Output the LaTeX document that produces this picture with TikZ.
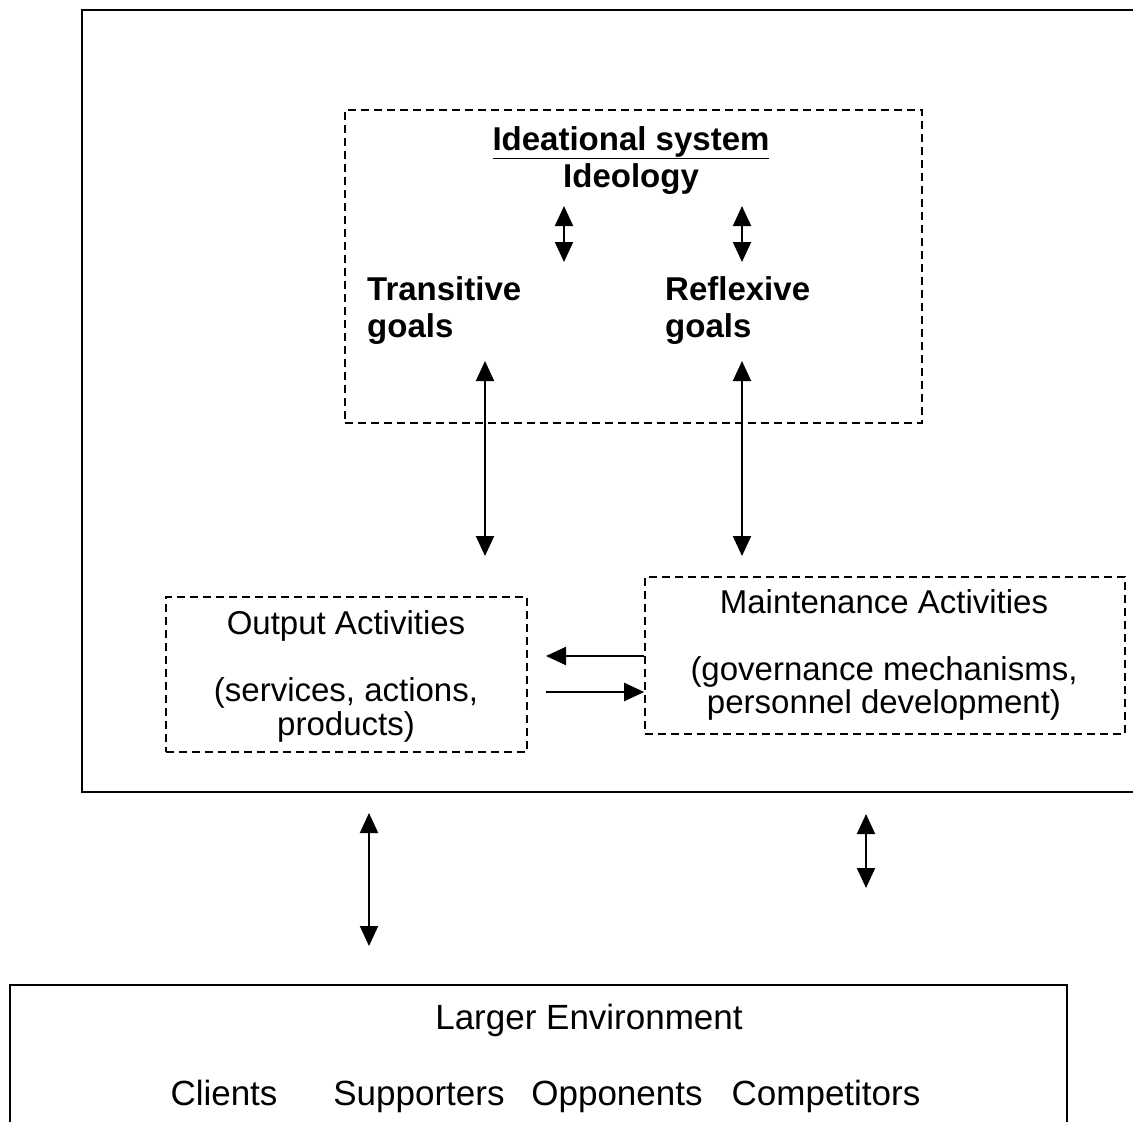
\documentclass[tikz,border=0pt]{standalone}
\usepackage{fontspec}
\setmainfont{Liberation Sans}
\usetikzlibrary{arrows.meta}
\begin{document}
\begin{tikzpicture}[x=1pt,y=-1pt,
  txt/.style={inner sep=0pt,anchor=base,font=\fontsize{33}{40}\selectfont},
  btxt/.style={txt,font=\fontsize{33}{40}\selectfont\bfseries},
  etxt/.style={txt,font=\fontsize{35}{42}\selectfont},
  dbox/.style={draw,dashed,dash pattern=on 8pt off 5pt,line width=1.6pt,inner sep=0pt},
  solidline/.style={line width=2.6pt},
  dbl/.style={line width=2pt,{Triangle[length=20pt,width=18pt]}-{Triangle[length=20pt,width=18pt]}},
  sgl/.style={line width=2pt,-{Triangle[length=20pt,width=18pt]}}]
\useasboundingbox (0,0) rectangle (1133,1122);
\fill[white] (0,0) rectangle (1133,1122);

% outer organisation box (open at right)
\coordinate (otr) at (1133,10);
\coordinate (otl) at (82,10);
\coordinate (obl) at (82,792);
\coordinate (obr) at (1133,792);
\draw[solidline] (otr) -- (otl) -- (obl) -- (obr);

% larger environment box (open at bottom)
\coordinate (ebl) at (10,1122);
\coordinate (etl) at (10,985);
\coordinate (etr) at (1067,985);
\coordinate (ebr) at (1067,1122);
\draw[line width=2.2pt] (ebl) -- (etl) -- (etr) -- (ebr);

% dashed boxes
\node[dbox,minimum width=577pt,minimum height=313pt] (ideal) at (633.5,266.5) {};
\node[dbox,minimum width=361pt,minimum height=155pt] (out) at (346.5,674.5) {};
\node[dbox,minimum width=480pt,minimum height=157pt] (maint) at (885,655.5) {};

% texts
\node[btxt] (ideational) at (631,150) {\underline{Ideational system}};
\node[btxt] (ideology) at (631,187) {Ideology};
\node[btxt,anchor=base west] (trans) at (367,300) {Transitive};
\node[btxt,anchor=base west] (transg) at (367,337) {goals};
\node[btxt,anchor=base west] (refl) at (665,300) {Reflexive};
\node[btxt,anchor=base west] (reflg) at (665,337) {goals};

\node[txt] (outt) at (346,634) {Output Activities};
\node[txt] (outs) at (346,701) {(services, actions,};
\node[txt] (outp) at (346,735) {products)};

\node[txt] (maintt) at (884,613) {Maintenance Activities};
\node[txt] (maintg) at (884,680) {(governance mechanisms,};
\node[txt] (maintp) at (884,713) {personnel development)};

\node[etxt] (env) at (589,1029) {Larger Environment};
\node[etxt] (clients) at (224,1105) {Clients};
\node[etxt] (supp) at (419,1105) {Supporters};
\node[etxt] (opp) at (617,1105) {Opponents};
\node[etxt] (comp) at (826,1105) {Competitors};

% arrow end points
\coordinate (a1t) at (564,206);
\coordinate (a1b) at (564,262);
\coordinate (a2t) at (742,206);
\coordinate (a2b) at (742,262);
\coordinate (a3t) at (485,361);
\coordinate (a3b) at (485,556);
\coordinate (a4t) at (742,361);
\coordinate (a4b) at (742,556);
\coordinate (h1s) at (maint.west |- 0,656);
\coordinate (h1e) at (546,656);
\coordinate (h2s) at (546,692);
\coordinate (h2e) at (maint.west |- 0,692);
\coordinate (e1t) at (369,813);
\coordinate (e1b) at (369,946);
\coordinate (e2t) at (866,814);
\coordinate (e2b) at (866,888);

\draw[dbl] (a1t) -- (a1b);
\draw[dbl] (a2t) -- (a2b);
\draw[dbl] (a3t) -- (a3b);
\draw[dbl] (a4t) -- (a4b);
\draw[sgl] (h1s) -- (h1e);
\draw[sgl] (h2s) -- (h2e);
\draw[dbl] (e1t) -- (e1b);
\draw[dbl] (e2t) -- (e2b);
\end{tikzpicture}
\end{document}
